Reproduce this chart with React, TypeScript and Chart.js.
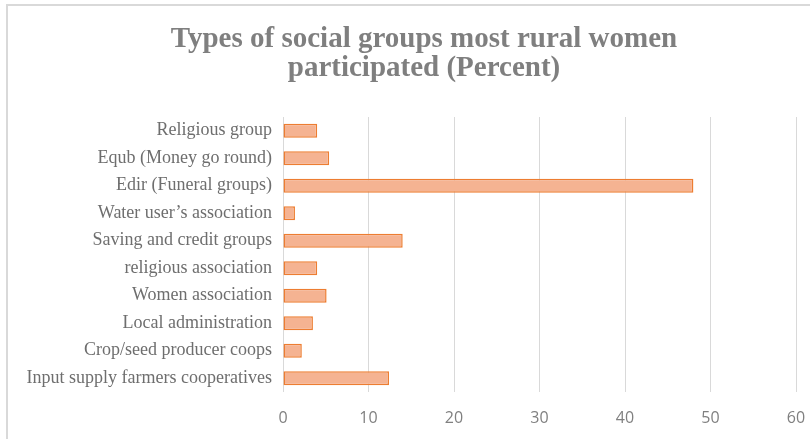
import React, { useEffect, useRef } from "react";
import { Chart, registerables } from "chart.js";

Chart.register(...registerables);

const categories = [
  "Religious group",
  "Equb (Money go round)",
  "Edir (Funeral groups)",
  "Water user’s association",
  "Saving and credit groups",
  "religious association",
  "Women association",
  "Local administration",
  "Crop/seed producer coops",
  "Input supply farmers cooperatives",
];
const percentValues = [4.0, 5.4, 48.0, 1.4, 14.0, 4.0, 5.1, 3.5, 2.2, 12.4];
const titleLines = ["Types of social groups most rural women", "participated (Percent)"];
const xMin = 0;
const xMax = 60;
const xStep = 10;

const titlePlugin = {
  id: "customTitle",
  afterDraw(chart: any) {
    const ctx = chart.ctx;
    ctx.save();
    ctx.fillStyle = "#7f7f7f";
    ctx.font = "bold 29px 'Liberation Serif', 'Times New Roman', serif";
    ctx.textAlign = "center";
    ctx.textBaseline = "alphabetic";
    titleLines.forEach((line, i) => {
      ctx.fillText(line, 424, 47 + i * 29);
    });
    ctx.restore();
  },
};

export default function App() {
  const canvasRef = useRef<HTMLCanvasElement | null>(null);

  useEffect(() => {
    document.body.style.margin = "0";
    document.body.style.overflow = "hidden";
    const canvas = canvasRef.current;
    if (!canvas) return;
    const chart = new Chart(canvas, {
      type: "bar",
      data: {
        labels: categories,
        datasets: [
          {
            data: percentValues,
            backgroundColor: "#f5b392",
            borderColor: "#ed7d31",
            borderWidth: 1.5,
            borderSkipped: false,
            barPercentage: 0.51,
            categoryPercentage: 1,
          },
        ],
      },
      plugins: [titlePlugin],
      options: {
        indexAxis: "y",
        animation: false,
        responsive: false,
        maintainAspectRatio: false,
        layout: { padding: { left: 0, right: 14, top: 117, bottom: 0 } },
        plugins: {
          legend: { display: false },
          tooltip: { enabled: false },
          title: { display: false },
        },
        scales: {
          x: {
            min: xMin,
            max: xMax,
            grid: { color: "#d9d9d9", lineWidth: 1, drawTicks: false },
            border: { display: false },
            ticks: {
              stepSize: xStep,
              color: "#808080",
              padding: 17,
              maxRotation: 0,
              font: { family: "'Open Sans', sans-serif", size: 16 },
            },
            afterFit: (scale: any) => {
              scale.height = 47;
              scale.paddingLeft = 0;
              scale.paddingRight = 0;
            },
          },
          y: {
            grid: { display: false, drawTicks: false },
            border: { display: false },
            ticks: {
              color: "#6e6e6e",
              padding: 11,
              autoSkip: false,
              font: { family: "'Liberation Serif', 'Times New Roman', serif", size: 18 },
            },
            afterFit: (scale: any) => {
              scale.width = 283;
              scale.paddingTop = 0;
              scale.paddingBottom = 0;
            },
          },
        },
      },
    });
    return () => chart.destroy();
  }, []);

  return (
    <div style={{ position: "fixed", left: 0, top: 0, width: 810, height: 439, overflow: "hidden", background: "#fff" }}>
      <div
        style={{
          position: "absolute",
          left: 6,
          top: 4,
          width: 900,
          height: 600,
          border: "2px solid #d9d9d9",
          boxSizing: "border-box",
        }}
      />
      <canvas
        ref={canvasRef}
        width={810}
        height={439}
        style={{ position: "absolute", left: 0, top: 0, width: 810, height: 439 }}
      />
    </div>
  );
}
